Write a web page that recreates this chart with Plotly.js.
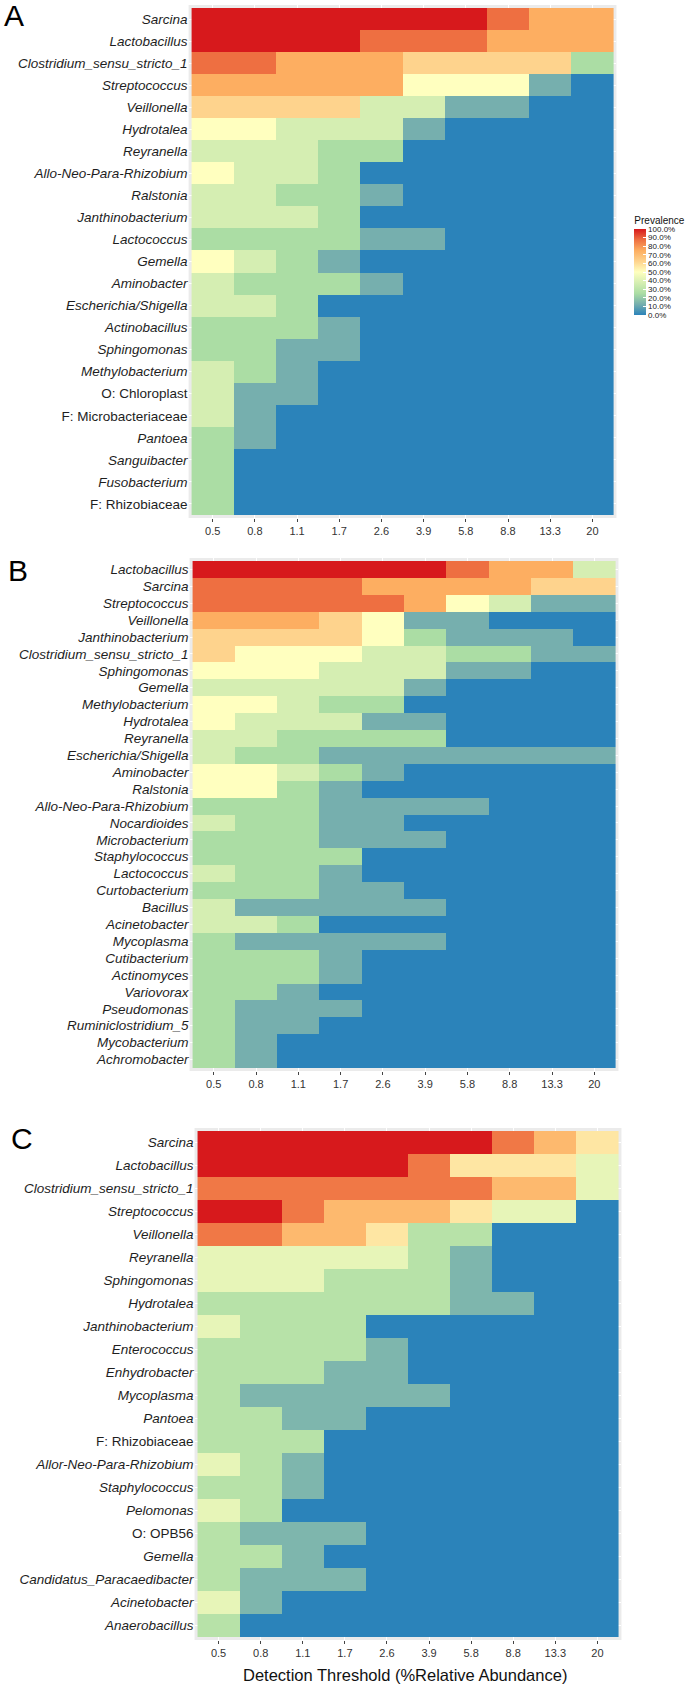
<!DOCTYPE html>
<html>
<head>
<meta charset="utf-8">
<script src="https://cdn.plot.ly/plotly-3.0.1.min.js"></script>
<style>
  body { margin: 0; background: #fff; }
  #chart { width: 685px; height: 1686px; }
</style>
</head>
<body>
<div id="chart"></div>
<script>
// detection thresholds (% relative abundance), shared by the three panels
const thresholds = ['0.5', '0.8', '1.1', '1.7', '2.6', '3.9', '5.8', '8.8', '13.3', '20'];

// panel A
const taxaA = ['Sarcina', 'Lactobacillus', 'Clostridium_sensu_stricto_1', 'Streptococcus', 'Veillonella',
  'Hydrotalea', 'Reyranella', 'Allo-Neo-Para-Rhizobium', 'Ralstonia', 'Janthinobacterium', 'Lactococcus',
  'Gemella', 'Aminobacter', 'Escherichia/Shigella', 'Actinobacillus', 'Sphingomonas', 'Methylobacterium',
  'O: Chloroplast', 'F: Microbacteriaceae', 'Pantoea', 'Sanguibacter', 'Fusobacterium', 'F: Rhizobiaceae'];
const prevA = [
  [100, 100, 100, 100, 100, 100, 100, 87.5, 75, 75],
  [100, 100, 100, 100, 87.5, 87.5, 87.5, 75, 75, 75],
  [87.5, 87.5, 75, 75, 75, 62.5, 62.5, 62.5, 62.5, 25],
  [75, 75, 75, 75, 75, 50, 50, 50, 12.5, 0],
  [62.5, 62.5, 62.5, 62.5, 37.5, 37.5, 12.5, 12.5, 0, 0],
  [50, 50, 37.5, 37.5, 37.5, 12.5, 0, 0, 0, 0],
  [37.5, 37.5, 37.5, 25, 25, 0, 0, 0, 0, 0],
  [50, 37.5, 37.5, 25, 0, 0, 0, 0, 0, 0],
  [37.5, 37.5, 25, 25, 12.5, 0, 0, 0, 0, 0],
  [37.5, 37.5, 37.5, 25, 0, 0, 0, 0, 0, 0],
  [25, 25, 25, 25, 12.5, 12.5, 0, 0, 0, 0],
  [50, 37.5, 25, 12.5, 0, 0, 0, 0, 0, 0],
  [37.5, 25, 25, 25, 12.5, 0, 0, 0, 0, 0],
  [37.5, 37.5, 25, 0, 0, 0, 0, 0, 0, 0],
  [25, 25, 25, 12.5, 0, 0, 0, 0, 0, 0],
  [25, 25, 12.5, 12.5, 0, 0, 0, 0, 0, 0],
  [37.5, 25, 12.5, 0, 0, 0, 0, 0, 0, 0],
  [37.5, 12.5, 12.5, 0, 0, 0, 0, 0, 0, 0],
  [37.5, 12.5, 0, 0, 0, 0, 0, 0, 0, 0],
  [25, 12.5, 0, 0, 0, 0, 0, 0, 0, 0],
  [25, 0, 0, 0, 0, 0, 0, 0, 0, 0],
  [25, 0, 0, 0, 0, 0, 0, 0, 0, 0],
  [25, 0, 0, 0, 0, 0, 0, 0, 0, 0]
];

// panel B
const taxaB = ['Lactobacillus', 'Sarcina', 'Streptococcus', 'Veillonella', 'Janthinobacterium',
  'Clostridium_sensu_stricto_1', 'Sphingomonas', 'Gemella', 'Methylobacterium', 'Hydrotalea', 'Reyranella',
  'Escherichia/Shigella', 'Aminobacter', 'Ralstonia', 'Allo-Neo-Para-Rhizobium', 'Nocardioides',
  'Microbacterium', 'Staphylococcus', 'Lactococcus', 'Curtobacterium', 'Bacillus', 'Acinetobacter',
  'Mycoplasma', 'Cutibacterium', 'Actinomyces', 'Variovorax', 'Pseudomonas', 'Ruminiclostridium_5',
  'Mycobacterium', 'Achromobacter'];
const prevB = [
  [100, 100, 100, 100, 100, 100, 87.5, 75, 75, 37.5],
  [87.5, 87.5, 87.5, 87.5, 75, 75, 75, 75, 62.5, 62.5],
  [87.5, 87.5, 87.5, 87.5, 87.5, 75, 50, 37.5, 12.5, 12.5],
  [75, 75, 75, 62.5, 50, 12.5, 12.5, 0, 0, 0],
  [62.5, 62.5, 62.5, 62.5, 50, 25, 12.5, 12.5, 12.5, 0],
  [62.5, 50, 50, 50, 37.5, 37.5, 25, 25, 12.5, 12.5],
  [50, 50, 50, 37.5, 37.5, 37.5, 12.5, 12.5, 0, 0],
  [37.5, 37.5, 37.5, 37.5, 37.5, 12.5, 0, 0, 0, 0],
  [50, 50, 37.5, 25, 25, 0, 0, 0, 0, 0],
  [50, 37.5, 37.5, 37.5, 12.5, 12.5, 0, 0, 0, 0],
  [37.5, 37.5, 25, 25, 25, 25, 0, 0, 0, 0],
  [37.5, 25, 25, 12.5, 12.5, 12.5, 12.5, 12.5, 12.5, 12.5],
  [50, 50, 37.5, 25, 12.5, 0, 0, 0, 0, 0],
  [50, 50, 25, 12.5, 0, 0, 0, 0, 0, 0],
  [25, 25, 25, 12.5, 12.5, 12.5, 12.5, 0, 0, 0],
  [37.5, 25, 25, 12.5, 12.5, 0, 0, 0, 0, 0],
  [25, 25, 25, 12.5, 12.5, 12.5, 0, 0, 0, 0],
  [25, 25, 25, 25, 0, 0, 0, 0, 0, 0],
  [37.5, 25, 25, 12.5, 0, 0, 0, 0, 0, 0],
  [25, 25, 25, 12.5, 12.5, 0, 0, 0, 0, 0],
  [37.5, 12.5, 12.5, 12.5, 12.5, 12.5, 0, 0, 0, 0],
  [37.5, 37.5, 25, 0, 0, 0, 0, 0, 0, 0],
  [25, 12.5, 12.5, 12.5, 12.5, 12.5, 0, 0, 0, 0],
  [25, 25, 25, 12.5, 0, 0, 0, 0, 0, 0],
  [25, 25, 25, 12.5, 0, 0, 0, 0, 0, 0],
  [25, 25, 12.5, 0, 0, 0, 0, 0, 0, 0],
  [25, 12.5, 12.5, 12.5, 0, 0, 0, 0, 0, 0],
  [25, 12.5, 12.5, 0, 0, 0, 0, 0, 0, 0],
  [25, 12.5, 0, 0, 0, 0, 0, 0, 0, 0],
  [25, 12.5, 0, 0, 0, 0, 0, 0, 0, 0]
];

// panel C
const taxaC = ['Sarcina', 'Lactobacillus', 'Clostridium_sensu_stricto_1', 'Streptococcus', 'Veillonella',
  'Reyranella', 'Sphingomonas', 'Hydrotalea', 'Janthinobacterium', 'Enterococcus', 'Enhydrobacter',
  'Mycoplasma', 'Pantoea', 'F: Rhizobiaceae', 'Allor-Neo-Para-Rhizobium', 'Staphylococcus', 'Pelomonas',
  'O: OPB56', 'Gemella', 'Candidatus_Paracaedibacter', 'Acinetobacter', 'Anaerobacillus'];
const prevC = [
  [100, 100, 100, 100, 100, 100, 100, 85.7, 71.4, 57.1],
  [100, 100, 100, 100, 100, 85.7, 57.1, 57.1, 57.1, 42.9],
  [85.7, 85.7, 85.7, 85.7, 85.7, 85.7, 85.7, 71.4, 71.4, 42.9],
  [100, 100, 85.7, 71.4, 71.4, 71.4, 57.1, 42.9, 42.9, 0],
  [85.7, 85.7, 71.4, 71.4, 57.1, 28.6, 28.6, 0, 0, 0],
  [42.9, 42.9, 42.9, 42.9, 42.9, 28.6, 14.3, 0, 0, 0],
  [42.9, 42.9, 42.9, 28.6, 28.6, 28.6, 14.3, 0, 0, 0],
  [28.6, 28.6, 28.6, 28.6, 28.6, 28.6, 14.3, 14.3, 0, 0],
  [42.9, 28.6, 28.6, 28.6, 0, 0, 0, 0, 0, 0],
  [28.6, 28.6, 28.6, 28.6, 14.3, 0, 0, 0, 0, 0],
  [28.6, 28.6, 28.6, 14.3, 14.3, 0, 0, 0, 0, 0],
  [28.6, 14.3, 14.3, 14.3, 14.3, 14.3, 0, 0, 0, 0],
  [28.6, 28.6, 14.3, 14.3, 0, 0, 0, 0, 0, 0],
  [28.6, 28.6, 28.6, 0, 0, 0, 0, 0, 0, 0],
  [42.9, 28.6, 14.3, 0, 0, 0, 0, 0, 0, 0],
  [28.6, 28.6, 14.3, 0, 0, 0, 0, 0, 0, 0],
  [42.9, 28.6, 0, 0, 0, 0, 0, 0, 0, 0],
  [28.6, 14.3, 14.3, 14.3, 0, 0, 0, 0, 0, 0],
  [28.6, 28.6, 14.3, 0, 0, 0, 0, 0, 0, 0],
  [28.6, 14.3, 14.3, 14.3, 0, 0, 0, 0, 0, 0],
  [42.9, 14.3, 0, 0, 0, 0, 0, 0, 0, 0],
  [28.6, 0, 0, 0, 0, 0, 0, 0, 0, 0]
];

const panelLetters = ['A', 'B', 'C'];
const legendTicks = [0, 10, 20, 30, 40, 50, 60, 70, 80, 90, 100];

const W = 685, H = 1686, pad = 3;
// tile area of each panel, in pixels
const boxes = [
  {l: 193, r: 618, t: 8, b: 515},
  {l: 194, r: 620, t: 561, b: 1068},
  {l: 199, r: 623, t: 1131, b: 1637}
];
const letterPos = [[14, 15], [18, 570], [22, 1138]];

// genus names italic, order/family names upright
function fmt(name) {
  return /^[OF]: /.test(name) ? name : '<i>' + name + '</i>';
}

const panels = [[taxaA, prevA], [taxaB, prevB], [taxaC, prevC]];
const traces = [];
const layout = {
  width: W, height: H,
  margin: {l: 0, r: 0, t: 0, b: 0},
  paper_bgcolor: 'white',
  plot_bgcolor: '#EBEBEB',
  font: {family: 'Liberation Sans, Arial, sans-serif', color: '#222'},
  showlegend: false,
  coloraxis: {
    cmin: 0, cmax: 100,
    colorscale: [
      [0, '#2B83BA'], [0.125, '#76AFAE'], [0.25, '#ABDDA4'], [0.375, '#D5EEB2'],
      [0.5, '#FFFFBF'], [0.625, '#FED38D'], [0.75, '#FDAE61'], [0.875, '#EE6F41'], [1, '#D7191C']
    ],
    colorbar: {
      x: 639 / W, xanchor: 'left',
      y: 1 - 213 / H, yanchor: 'top',
      len: 102, lenmode: 'pixels',
      thickness: 12, thicknessmode: 'pixels',
      outlinewidth: 0, xpad: 0, ypad: 0,
      tickvals: legendTicks,
      ticktext: legendTicks.map(v => v.toFixed(1) + '%'),
      tickfont: {size: 8, color: '#222'},
      ticks: 'inside', ticklen: 3, tickcolor: 'white',
      title: {text: 'Prevalence', side: 'top', font: {size: 10, color: '#111'}}
    }
  },
  annotations: []
};

panels.forEach(([taxa, prev], i) => {
  const sfx = i === 0 ? '' : String(i + 1);
  const bx = boxes[i];
  const n = taxa.length;
  const cw = (bx.r - bx.l) / thresholds.length;
  const rh = (bx.b - bx.t) / n;

  traces.push({
    type: 'heatmap',
    x: thresholds,
    y: taxa,
    z: prev,
    coloraxis: 'coloraxis',
    xaxis: 'x' + sfx,
    yaxis: 'y' + sfx,
    hovertemplate: '%{y}<br>%{x}%: %{z:.1f}%<extra></extra>'
  });

  layout['xaxis' + sfx] = {
    type: 'category',
    anchor: 'y' + sfx,
    domain: [(bx.l - pad) / W, (bx.r + pad) / W],
    range: [-0.5 - pad / cw, thresholds.length - 0.5 + pad / cw],
    showgrid: true, gridcolor: 'white', gridwidth: 1,
    zeroline: false, showline: false,
    ticks: 'outside', ticklen: 3, tickcolor: '#444', tickwidth: 1,
    tickfont: {size: 11, color: '#333'},
    fixedrange: true
  };
  layout['yaxis' + sfx] = {
    type: 'category',
    anchor: 'x' + sfx,
    domain: [1 - (bx.b + pad) / H, 1 - (bx.t - pad) / H],
    range: [n - 0.5 + pad / rh, -0.5 - pad / rh],
    tickvals: taxa,
    ticktext: taxa.map(fmt),
    showgrid: true, gridcolor: 'white', gridwidth: 1,
    zeroline: false, showline: false,
    ticks: '',
    tickfont: {size: 13.5, color: '#1e1e1e'},
    fixedrange: true
  };

  layout.annotations.push({
    text: panelLetters[i],
    xref: 'paper', yref: 'paper',
    x: letterPos[i][0] / W, y: 1 - letterPos[i][1] / H,
    xanchor: 'center', yanchor: 'middle',
    showarrow: false,
    font: {size: 30, color: '#000'}
  });
});

layout.annotations.push({
  text: 'Detection Threshold (%Relative Abundance)',
  xref: 'paper', yref: 'paper',
  x: 408 / W, y: 1 - 1675 / H,
  xanchor: 'center', yanchor: 'middle',
  showarrow: false,
  font: {size: 16.5, color: '#111'}
});

Plotly.newPlot('chart', traces, layout, {displayModeBar: false, staticPlot: true});
</script>
</body>
</html>
